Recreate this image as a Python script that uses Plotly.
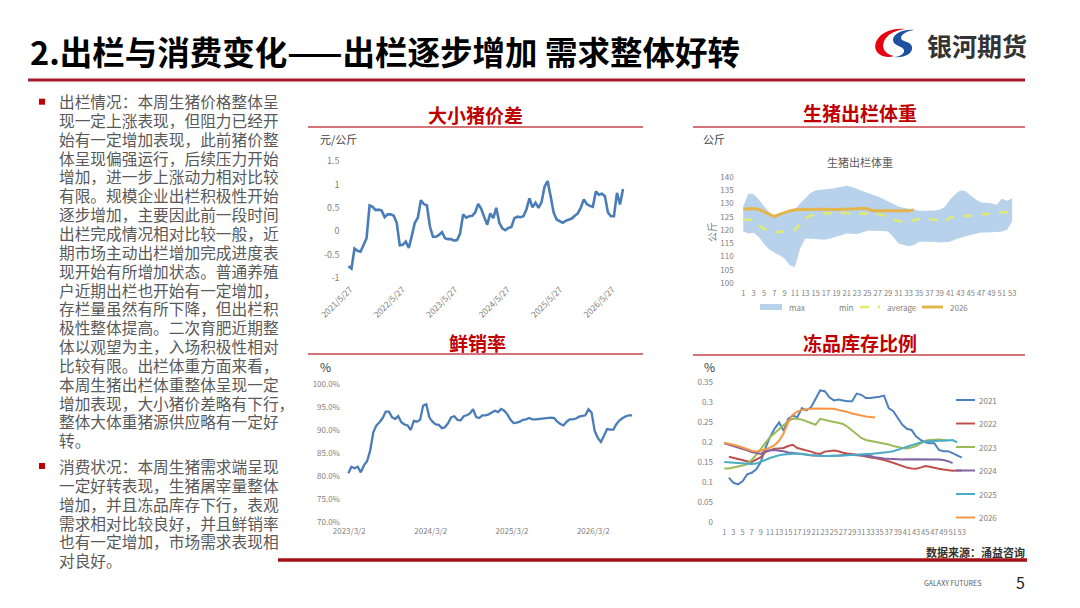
import plotly.graph_objects as go
import pandas as pd

# ---- data ----
# 大小猪价差 (元/公斤), roughly every 3 weeks from 2021/5
spread = [-0.75, -0.80, -0.37, -0.42, -0.44, -0.29, -0.15, 0.55, 0.52, 0.45,
          0.46, 0.44, 0.30, 0.36, 0.36, 0.33, 0.18, -0.30, -0.29, -0.22,
          -0.36, -0.10, 0.18, 0.29, 0.66, 0.58, 0.55, 0.10, -0.12, -0.12,
          -0.08, -0.02, -0.15, -0.17, -0.17, -0.20, -0.19, -0.05, 0.36, 0.29,
          0.32, 0.33, 0.40, 0.58, 0.48, 0.30, 0.14, 0.38, 0.28, 0.50,
          0.18, 0.06, 0.02, 0.07, 0.09, 0.28, 0.31, 0.30, 0.32, 0.47,
          0.70, 0.51, 0.61, 0.50, 0.62, 0.95, 1.07, 0.75, 0.40, 0.25,
          0.21, 0.18, 0.22, 0.25, 0.27, 0.33, 0.38, 0.50, 0.68, 0.58,
          0.54, 0.52, 0.85, 0.78, 0.80, 0.75, 0.40, 0.32, 0.32, 0.82,
          0.57, 0.90]
spread_dates = pd.date_range("2021-05-16", periods=len(spread), freq="21D")
spread_ticks = ["2021-05-27", "2022-05-27", "2023-05-27", "2024-05-27", "2025-05-27", "2026-05-27"]
spread_ticktext = ["2021/5/27", "2022/5/27", "2023/5/27", "2024/5/27", "2025/5/27", "2026/5/27"]

# 生猪出栏体重 (公斤), week 1-53
weeks = list(range(1, 54))
w_max = [129, 133.8, 133.5, 131.5, 129, 126.8, 125.4, 126, 126.8, 127.3,
         127.8, 130, 132.2, 134, 135, 135.3, 135.4, 135.6, 136, 136.5,
         136.7, 136.2, 135.4, 134.6, 133.9, 133.3, 132.7, 131.8, 130.8, 129.8,
         128.9, 128.4, 128, 127.6, 127.3, 127.3, 127.3, 127.4, 127.6, 128.8,
         131.5, 133.5, 135, 134.6, 133, 131.5, 130.4, 130.2, 130.1, 129.5,
         131.8, 131, 132]
w_min = [119.4, 118.7, 119, 117.5, 114.7, 112.7, 111.4, 110.5, 109.2, 106.7,
         106, 113, 116.8, 116.8, 116.6, 116.4, 116.4, 116.9, 117.5, 118.1,
         118.7, 118.6, 118.5, 119.1, 119.7, 119.7, 119.7, 119.6, 119.4, 117.5,
         114.9, 114.3, 113.9, 114.3, 115.6, 115.6, 115.6, 115.5, 115.3, 115.4,
         115.6, 116.4, 117.1, 117.6, 118.1, 118.6, 119.1, 119.1, 119.1, 119.2,
         119.4, 120, 123.2]
w_avg = [124, 123.9, 123.8, 122, 120.3, 119.6, 119, 119.3, 119.6, 119.8,
         120, 122.2, 124.4, 125.4, 126, 126.2, 126.3, 126.5, 126.6, 126.5,
         126.3, 126.1, 126, 126.2, 126.3, 126.2, 126.1, 125.6, 125.1, 123.8,
         123.4, 123.3, 123.2, 123.7, 124.2, 124.2, 124.2, 123.8, 123.4, 123.2,
         124.7, 124.9, 125.1, 125.3, 125.4, 125.6, 125.9, 126.1, 126.3, 126.4,
         126.6, 126.8, 127]
w_2026 = [127.8, 128, 128.1, 127.8, 127, 126, 125.1, 125.9, 126.7, 127.2,
          127.6, 127.7, 127.8, 127.8, 127.8, 127.8, 127.7, 127.7, 127.7, 127.8,
          127.8, 127.9, 128, 128.2, 128, 127.3, 127.3, 127.2, 127.2, 127.2,
          127.2, 127.3, 127.3, 127.6]

# 鲜销率 (%), every 2 weeks from 2023/2
fresh = [80.6, 82.0, 81.7, 82.0, 80.8, 82.3, 83.2, 85.5, 89.5, 91.0,
         91.7, 92.6, 94.0, 94.0, 92.8, 92.4, 93.0, 91.7, 91.2, 91.0,
         90.0, 92.0, 91.8, 92.2, 95.3, 95.6, 92.7, 91.8, 91.2, 91.1,
         90.4, 90.6, 91.5, 92.8, 93.0, 92.2, 92.1, 93.0, 93.2, 93.6,
         94.5, 92.8, 92.6, 93.2, 93.2, 93.4, 93.8, 94.2, 93.9, 94.6,
         94.2, 93.4, 92.2, 91.5, 91.6, 91.8, 92.2, 92.3, 92.6, 92.3,
         92.3, 92.4, 92.5, 92.6, 92.7, 92.7, 92.6, 91.8, 91.3, 91.0,
         91.8, 92.3, 92.3, 92.5, 92.9, 93.0, 93.2, 94.5, 93.8, 89.8,
         88.3, 87.4, 88.9, 90.2, 90.1, 90.1, 91.3, 92.1, 92.6, 93.0,
         93.2, 93.2]
fresh_dates = pd.date_range("2023-02-26", periods=len(fresh), freq="14D")
fresh_ticks = ["2023-03-02", "2024-03-02", "2025-03-02", "2026-03-02"]
fresh_ticktext = ["2023/3/2", "2024/3/2", "2025/3/2", "2026/3/2"]

# 冻品库存比例, week 1-53
inv_years = ["2021", "2022", "2023", "2024", "2025", "2026"]
inv_2021 = [None, 0.111, 0.098, 0.094, 0.102, 0.119, 0.123, 0.132, 0.150, 0.185,
            0.212, 0.233, 0.249, 0.228, 0.258, 0.266, 0.262, 0.285, 0.279, 0.287,
            0.308, 0.329, 0.327, 0.312, 0.304, 0.306, 0.304, 0.302, 0.302, 0.321,
            0.318, 0.310, 0.310, 0.311, 0.313, 0.316, 0.285, 0.277, 0.260, 0.243,
            0.233, 0.230, 0.214, 0.205, 0.199, 0.197, 0.197, 0.180, 0.177, 0.177,
            0.172, 0.167, 0.161]
inv_2022 = [None, 0.163, 0.160, 0.158, 0.155, 0.152, 0.150, 0.155, 0.162, 0.175,
            0.180, 0.183, 0.184, 0.185, 0.190, 0.193, 0.185, 0.182, 0.180, 0.176,
            0.172, 0.170, 0.176, 0.178, 0.179, 0.177, 0.173, 0.171, 0.170, 0.168,
            0.166, 0.163, 0.161, 0.160, 0.158, 0.155, 0.152, 0.148, 0.143, 0.139,
            0.136, 0.134, 0.133, 0.136, 0.140, 0.138, 0.135, 0.133, 0.131, 0.129,
            0.128, 0.129, 0.129]
inv_2023 = [0.134, 0.134, 0.136, 0.138, 0.141, 0.145, 0.155, 0.168, 0.183, 0.200,
            0.212, 0.222, 0.232, 0.242, 0.252, 0.258, 0.258, 0.256, 0.252, 0.248,
            0.243, 0.258, 0.255, 0.252, 0.250, 0.248, 0.245, 0.238, 0.228, 0.218,
            0.210, 0.205, 0.203, 0.201, 0.199, 0.197, 0.194, 0.190, 0.187, 0.185,
            0.184, 0.186, 0.190, 0.196, 0.203, 0.205, 0.206, 0.206, 0.205, 0.204]
inv_2024 = [0.197, 0.194, 0.190, 0.186, 0.183, 0.179, 0.175, 0.172, 0.170, 0.178,
            0.179, 0.180, 0.178, 0.177, 0.174, 0.172, 0.171, 0.170, 0.168, 0.167,
            0.166, 0.165, 0.165, 0.165, 0.165, 0.166, 0.167, 0.168, 0.168, 0.167,
            0.166, 0.165, 0.165, 0.162, 0.160, 0.159, 0.158, 0.157, 0.156, 0.156,
            0.157, 0.157, 0.157, 0.157, 0.157, 0.157, 0.157, 0.156, 0.155, 0.152,
            0.147]
inv_2025 = [0.150, 0.149, 0.148, 0.147, 0.146, 0.146, 0.145, 0.146, 0.150, 0.155,
            0.160, 0.164, 0.167, 0.169, 0.170, 0.171, 0.171, 0.170, 0.168, 0.167,
            0.166, 0.165, 0.165, 0.165, 0.165, 0.166, 0.166, 0.167, 0.168, 0.168,
            0.169, 0.170, 0.170, 0.171, 0.172, 0.173, 0.175, 0.177, 0.180, 0.184,
            0.188, 0.192, 0.196, 0.199, 0.201, 0.202, 0.202, 0.203, 0.203, 0.204,
            0.205, 0.199]
inv_2026 = [0.198, 0.196, 0.193, 0.190, 0.186, 0.182, 0.178, 0.176, 0.178, 0.182,
            0.186, 0.192, 0.203, 0.222, 0.250, 0.268, 0.276, 0.280, 0.282, 0.283,
            0.284, 0.284, 0.284, 0.284, 0.283, 0.280, 0.278, 0.275, 0.271, 0.268,
            0.266, 0.264, 0.262, 0.261]
inv_series = [inv_2021, inv_2022, inv_2023, inv_2024, inv_2025, inv_2026]
inv_colors = ["#4F81BD", "#C0504D", "#9BBB59", "#8064A2", "#4BACC6", "#F79646"]

body_1 = [
    "出栏情况：本周生猪价格整体呈",
    "现一定上涨表现，但阻力已经开",
    "始有一定增加表现，此前猪价整",
    "体呈现偏强运行，后续压力开始",
    "增加，进一步上涨动力相对比较",
    "有限。规模企业出栏积极性开始",
    "逐步增加，主要因此前一段时间",
    "出栏完成情况相对比较一般，近",
    "期市场主动出栏增加完成进度表",
    "现开始有所增加状态。普通养殖",
    "户近期出栏也开始有一定增加，",
    "存栏量虽然有所下降，但出栏积",
    "极性整体提高。二次育肥近期整",
    "体以观望为主，入场积极性相对",
    "比较有限。出栏体重方面来看，",
    "本周生猪出栏体重整体呈现一定",
    "增加表现，大小猪价差略有下行，",
    "整体大体重猪源供应略有一定好",
    "转。",
]
body_2 = [
    "消费状况：本周生猪需求端呈现",
    "一定好转表现，生猪屠宰量整体",
    "增加，并且冻品库存下行，表观",
    "需求相对比较良好，并且鲜销率",
    "也有一定增加，市场需求表现相",
    "对良好。",
]

CJK = "Noto Sans CJK SC"
TICK = dict(family=CJK, size=8.5, color="#7F7F7F")


def X(px):
    return px / 1080


def Y(py):
    return 1 - py / 608


def P(px, py):
    return f"{X(px):.5f},{Y(py):.5f}"


annotations = []
shapes = []


def text(x, y, s, size, color="#404040", xanchor="left", bold=False, angle=0):
    annotations.append(dict(
        x=X(x), y=Y(y), xref="paper", yref="paper", text=s, showarrow=False,
        xanchor=xanchor, yanchor="middle", textangle=angle, align="left",
        font=dict(family=CJK, size=size, color=color, weight="bold" if bold else "normal"),
    ))


def hline(x0, x1, y, color, width):
    shapes.append(dict(type="line", xref="paper", yref="paper",
                       x0=X(x0), x1=X(x1), y0=Y(y), y1=Y(y),
                       line=dict(color=color, width=width)))


fig = go.Figure()

# chart 1: price spread
fig.add_trace(go.Scatter(x=spread_dates, y=spread, mode="lines",
                         line=dict(color="#4A7DB8", width=2.6), xaxis="x", yaxis="y"))

# chart 2: slaughter weight band
fig.add_trace(go.Scatter(x=weeks, y=w_min, mode="lines", line=dict(width=0, color="rgba(0,0,0,0)"),
                         xaxis="x2", yaxis="y2"))
fig.add_trace(go.Scatter(x=weeks, y=w_max, mode="lines", line=dict(width=0, color="rgba(0,0,0,0)"),
                         fill="tonexty", fillcolor="#B9D2EC", xaxis="x2", yaxis="y2"))
fig.add_trace(go.Scatter(x=weeks, y=w_avg, mode="lines",
                         line=dict(color="#E0EC6A", width=2.4, dash="dash"), xaxis="x2", yaxis="y2"))
fig.add_trace(go.Scatter(x=weeks[:len(w_2026)], y=w_2026, mode="lines",
                         line=dict(color="#E3B54A", width=3), xaxis="x2", yaxis="y2"))

# chart 3: fresh sale rate
fig.add_trace(go.Scatter(x=fresh_dates, y=fresh, mode="lines",
                         line=dict(color="#4A7DB8", width=2.3), xaxis="x3", yaxis="y3"))

# chart 4: frozen inventory
for s, c in zip(inv_series, inv_colors):
    fig.add_trace(go.Scatter(x=weeks[:len(s)], y=s, mode="lines",
                             line=dict(color=c, width=2), xaxis="x4", yaxis="y4"))

base_ax = dict(showgrid=False, zeroline=False, showline=False, ticks="", tickfont=TICK,
               fixedrange=True, automargin=False)

layout_axes = dict(
    xaxis=dict(base_ax, domain=[X(347.6), X(627.6)], range=["2021-05-10", "2026-09-10"],
               anchor="y", tickvals=spread_ticks, ticktext=spread_ticktext, tickangle=-45,
               ticklabelstandoff=4),
    yaxis=dict(base_ax, domain=[Y(278), Y(161)], range=[-1, 1.5], anchor="x",
               tickvals=[-1, -0.5, 0, 0.5, 1, 1.5], ticktext=["-1", "-0.5", "0", "0.5", "1", "1.5"],
               ticklabelstandoff=7, tickfont=dict(TICK, size=9)),
    xaxis2=dict(base_ax, domain=[X(740.7), X(1014.7)], range=[0.5, 53.5], anchor="y2",
                tickvals=weeks[::2], tickangle=0, tickfont=dict(TICK, size=7.5), ticklabelstandoff=4),
    yaxis2=dict(base_ax, domain=[Y(283), Y(177)], range=[100, 140], anchor="x2",
                tickvals=list(range(100, 141, 5)), ticklabelstandoff=6, tickfont=dict(TICK, size=8)),
    xaxis3=dict(base_ax, domain=[X(345), X(635)], range=["2023-02-11", "2026-09-05"], anchor="y3",
                tickvals=fresh_ticks, ticktext=fresh_ticktext, tickangle=0, ticklabelstandoff=3,
                tickfont=dict(TICK, size=8)),
    yaxis3=dict(base_ax, domain=[Y(522), Y(384)], range=[70, 100], anchor="x3",
                tickvals=list(range(70, 101, 5)), ticktext=[f"{v}.0%" for v in range(70, 101, 5)],
                ticklabelstandoff=4, tickfont=dict(TICK, size=8)),
    xaxis4=dict(base_ax, domain=[X(722), X(964)], range=[0.5, 53.5], anchor="y4",
                tickvals=weeks[::2], tickangle=0, tickfont=dict(TICK, size=7.5), ticklabelstandoff=4),
    yaxis4=dict(base_ax, domain=[Y(522), Y(382)], range=[0, 0.35], anchor="x4",
                tickvals=[0, 0.05, 0.1, 0.15, 0.2, 0.25, 0.3, 0.35],
                ticktext=["0", "0.05", "0.1", "0.15", "0.2", "0.25", "0.3", "0.35"],
                ticklabelstandoff=8, tickfont=dict(TICK, size=8)),
)

# ---- slide decoration ----
text(28, 50, "2.出栏与消费变化——出栏逐步增加 需求整体好转", 32.5, "#000000", bold=True)
text(925, 45, "银河期货", 25, "#333333", bold=True)
hline(28, 1025, 80, "#A6192E", 3)

# logo swirl
shapes.append(dict(type="path", xref="paper", yref="paper", line=dict(width=0), fillcolor="#E60012",
                   path=f"M{P(905,29)} C{P(885,27)} {P(872,40)} {P(876,50)} C{P(879,57)} {P(888,58)} {P(894,56)} "
                        f"C{P(884,54)} {P(880,46)} {P(886,38)} C{P(890,33)} {P(897,30)} {P(905,29)} Z"))
shapes.append(dict(type="path", xref="paper", yref="paper", line=dict(width=0), fillcolor="#1E50A2",
                   path=f"M{P(914,30)} C{P(905,29)} {P(893,33)} {P(893,40)} C{P(893,46)} {P(903,46)} {P(904,50)} "
                        f"C{P(905,54)} {P(899,57)} {P(894,57)} C{P(904,58)} {P(913,54)} {P(912,47)} "
                        f"C{P(911,41)} {P(901,42)} {P(901,38)} C{P(901,34)} {P(907,31)} {P(914,30)} Z"))

# left text column: one block per bullet, line pitch from base size, glyphs slightly larger
LINE_PITCH = 18.85
base_size = LINE_PITCH / 1.3


def block(lines, y_first):
    body = "<br>".join(f'<span style="font-size:15.7px">{s}</span>' for s in lines)
    y_mid = y_first + (len(lines) - 1) * LINE_PITCH / 2
    text(56.5, y_mid, body, base_size, "#595959")


block(body_1, 101.7)
block(body_2, 466)
for by in (101.7, 466):
    shapes.append(dict(type="rect", xref="paper", yref="paper", x0=X(39), x1=X(45),
                       y0=Y(by + 3), y1=Y(by - 3), fillcolor="#C00000", line=dict(width=0)))

# panel headers
for cx, cy, title, ly, lx0, lx1 in [
    (475, 114, "大小猪价差", 127, 308, 643),
    (860, 113, "生猪出栏体重", 127, 693, 1025),
    (477, 342, "鲜销率", 354, 308, 643),
    (860, 342, "冻品库存比例", 355, 693, 1025),
]:
    text(cx, cy, title, 19, "#C00000", xanchor="center", bold=True)
    hline(lx0, lx1, ly, "#C9444B", 1.5)

text(318, 139, "元/公斤", 11, "#404040")
text(701, 139, "公斤", 11, "#404040")
text(318, 366, "%", 12, "#404040")
text(702, 366, "%", 12, "#404040")

# chart 2 inner title, axis title and legend
text(860, 162, "生猪出栏体重", 11, "#595959", xanchor="center")
text(712, 232, "公斤", 10, "#7F7F7F", xanchor="center", angle=-90)
shapes.append(dict(type="rect", xref="paper", yref="paper", x0=X(760), x1=X(782), y0=Y(310), y1=Y(304),
                   fillcolor="#B9D2EC", line=dict(width=0)))
text(787, 307, "max", 8, "#7F7F7F")
text(837, 307, "min", 8, "#7F7F7F")
shapes.append(dict(type="line", xref="paper", yref="paper", x0=X(860), x1=X(880), y0=Y(307), y1=Y(307),
                   line=dict(color="#E0EC6A", width=2.4, dash="dash")))
text(885, 307, "average", 8, "#7F7F7F")
shapes.append(dict(type="line", xref="paper", yref="paper", x0=X(922), x1=X(943), y0=Y(307), y1=Y(307),
                   line=dict(color="#E3B54A", width=3)))
text(948, 307, "2026", 8, "#7F7F7F")

# chart 4 legend
for i, (yr, c) in enumerate(zip(inv_years, inv_colors)):
    ly = 400 + i * 23.5
    shapes.append(dict(type="line", xref="paper", yref="paper", x0=X(956), x1=X(975), y0=Y(ly), y1=Y(ly),
                       line=dict(color=c, width=2)))
    text(977, ly, yr, 8, "#7F7F7F")

# footer
text(1027, 552, "数据来源：涌益咨询", 11, "#333333", xanchor="right", bold=True)
hline(278, 1027, 560, "#A50F15", 3.5)
text(952, 583, "GALAXY FUTURES", 7, "#595959", xanchor="center")
text(1020, 582, "5", 16, "#222222", xanchor="center")

fig.update_layout(
    width=1080, height=608,
    margin=dict(l=0, r=0, t=0, b=0, pad=0, autoexpand=False),
    paper_bgcolor="white", plot_bgcolor="white",
    showlegend=False,
    font=dict(family=CJK),
    annotations=annotations,
    shapes=shapes,
    **layout_axes,
)

# drop the browser's default 8px page margin so the slide sits at the window corner
fig.write_html("out.html", config={"displayModeBar": False},
               post_script="document.body.style.margin='0px';")
